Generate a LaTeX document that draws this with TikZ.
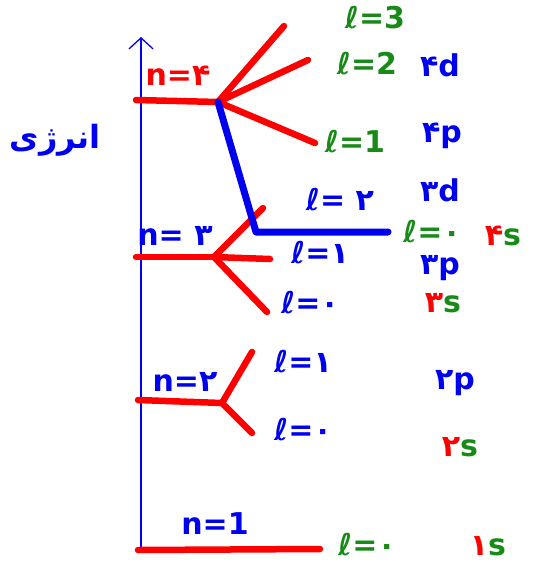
\documentclass[tikz,border=0pt]{standalone}
\usepackage{fontspec}
\setmainfont{DejaVu Sans}
\newfontfamily\fa[Script=Arabic]{DejaVu Sans}
\TeXXeTstate=1
\usetikzlibrary{arrows.meta,positioning}
\definecolor{rd}{HTML}{FF0000}
\definecolor{bl}{HTML}{0000F0}
\definecolor{gr}{HTML}{188A18}
\newcommand{\fd}[1]{{\fa #1}}
\newcommand{\rs}[1]{{\color{rd}\fd{#1}}{\color{gr}s}}
\tikzset{
  level/.style={line width=6.5pt, line cap=round, rd},
  jump/.style={line width=7pt, line cap=round, line join=round, bl},
  axis/.style={line width=1.3pt, bl, -{Straight Barb[length=11pt,width=24pt]}},
  lab/.style={font=\fontsize{30}{30}\selectfont\bfseries, inner sep=0pt},
}

\begin{document}
\begin{tikzpicture}[x=1pt,y=-1pt]
  \useasboundingbox (0,0) rectangle (541,565);
  % energy axis
  \coordinate (a0) at (141,552);
  \coordinate (a1) at (141,37);
  \draw[axis] (a0) -- (a1);
  \node[lab,bl,font=\fontsize{32}{32}\selectfont\bfseries] (energy) at (55,140) {\fa\beginR انرژی\endR};
  % n=4
  \coordinate (s4) at (136,100);
  \coordinate (j4) at (218,102);
  \coordinate (e43) at (284,26);
  \coordinate (e42) at (308,60);
  \coordinate (e41) at (315,143);
  \draw[level] (s4) -- (j4);
  \draw[level] (j4) -- (e43);
  \draw[level] (j4) -- (e42);
  \draw[level] (j4) -- (e41);
  \node[lab,rd] (n4) at (178,76) {n=\fd{۴}};
  \node[lab,gr] (l43) at (375,18) {ℓ=3};
  \node[lab,gr] (l42) at (367,64) {ℓ=2};
  \node[lab,gr] (l41) at (355,142) {ℓ=1};
  \node[lab,bl] (o4d) at (440,65) {\fd{۴}d};
  \node[lab,bl] (o4p) at (442,136) {\fd{۴}p};
  % n=3
  \coordinate (s3) at (136,257);
  \coordinate (j3) at (214,257);
  \coordinate (e32) at (263,208);
  \coordinate (e31) at (270,259);
  \coordinate (e30) at (267,312);
  \draw[level] (s3) -- (j3);
  \draw[level] (j3) -- (e32);
  \draw[level] (j3) -- (e31);
  \draw[level] (j3) -- (e30);
  \node[lab,bl] (n3) at (175,236) {n=~\fd{۳}};
  \node[lab,bl] (l32) at (340,200) {ℓ=~\fd{۲}};
  \node[lab,bl] (l31) at (320,253) {ℓ=\fd{۱}};
  \node[lab,bl] (l30) at (310,303) {ℓ=\fd{۰}};
  \node[lab,bl] (o3d) at (440,190) {\fd{۳}d};
  \node[lab,bl] (o3p) at (440,268) {\fd{۳}p};
  \node[lab] (o3s) at (443,303) {\rs{۳}};
  % 4s drops below 3d
  \coordinate (k4) at (256,232);
  \coordinate (e40) at (388,232);
  \draw[jump] (j4) -- (k4) -- (e40);
  \node[lab,gr] (l40) at (432,232) {ℓ=\fd{۰}};
  \node[lab] (o4s) at (503,236) {\rs{۴}};
  % n=2
  \coordinate (s2) at (138,400);
  \coordinate (j2) at (222,403);
  \coordinate (e21) at (252,352);
  \coordinate (e20) at (252,433);
  \draw[level] (s2) -- (j2);
  \draw[level] (j2) -- (e21);
  \draw[level] (j2) -- (e20);
  \node[lab,bl] (n2) at (185,382) {n=\fd{۲}};
  \node[lab,bl] (l21) at (303,362) {ℓ=\fd{۱}};
  \node[lab,bl] (l20) at (303,430) {ℓ=\fd{۰}};
  \node[lab,bl] (o2p) at (455,383) {\fd{۲}p};
  \node[lab] (o2s) at (460,447) {\rs{۲}};
  % n=1
  \coordinate (s1) at (138,550);
  \coordinate (e10) at (320,549);
  \draw[level] (s1) -- (e10);
  \node[lab,bl] (n1) at (215,524) {n=1};
  \node[lab,gr] (l10) at (367,545) {ℓ=\fd{۰}};
  \node[lab] (o1s) at (488,546) {\rs{۱}};
\end{tikzpicture}
\end{document}
